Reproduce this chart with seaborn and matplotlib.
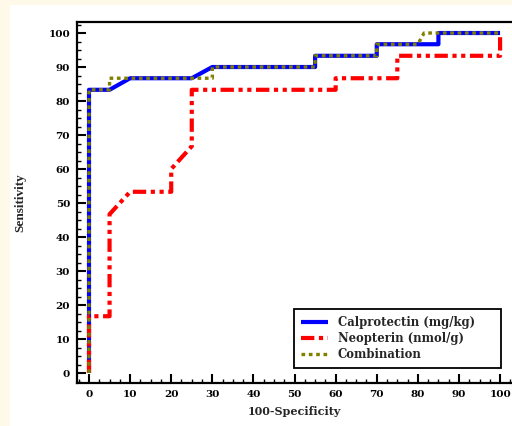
import matplotlib
matplotlib.use("Agg")
import matplotlib.pyplot as plt
import seaborn as sns
import pandas as pd
from matplotlib.patches import Rectangle
from matplotlib.ticker import MultipleLocator

# ---- data (100-Specificity, Sensitivity) ----
calpro_x = [0, 0, 5, 10, 25, 30, 55, 55, 70, 70, 85, 85, 100]
calpro_y = [0, 83.3, 83.3, 86.7, 86.7, 90, 90, 93.3, 93.3, 96.7, 96.7, 100, 100]

neop_x = [0, 0, 5, 5, 10, 20, 20, 25, 25, 60, 60, 75, 75, 100, 100]
neop_y = [0, 16.7, 16.7, 46.7, 53.3, 53.3, 60, 66.7, 83.3, 83.3, 86.7, 86.7, 93.3, 93.3, 100]

comb_x = [0, 0, 5, 5, 30, 30, 55, 55, 70, 70, 80, 81.5, 100]
comb_y = [0, 83.3, 83.3, 86.7, 86.7, 90, 90, 93.3, 93.3, 96.7, 96.7, 100, 100]

labels = ["Calprotectin (mg/kg)", "Neopterin (nmol/g)", "Combination"]
xticks = list(range(0, 101, 10))
yticks = list(range(0, 101, 10))

sns.set_style("white")
plt.rcParams["font.family"] = ["DejaVu Serif", "Liberation Serif"]
plt.rcParams["font.weight"] = "bold"

fig = plt.figure(figsize=(5.12, 4.26), dpi=100)
fig.patch.set_facecolor("#fef9e8")
fig.patches.append(Rectangle((10 / 512, 0), 1, 1 - 5 / 426, transform=fig.transFigure,
                             facecolor="white", edgecolor="none", zorder=-10))

ax = fig.add_axes([77 / 512, 43 / 426, 435 / 512, 361 / 426])
ax.set_facecolor("none")

df_c = pd.DataFrame({"x": calpro_x, "y": calpro_y})
df_n = pd.DataFrame({"x": neop_x, "y": neop_y})
df_b = pd.DataFrame({"x": comb_x, "y": comb_y})

sns.lineplot(data=df_c, x="x", y="y", sort=False, estimator=None, ax=ax,
             color="#0000ff", linewidth=3.0, label=labels[0])
sns.lineplot(data=df_n, x="x", y="y", sort=False, estimator=None, ax=ax,
             color="#ff0000", linewidth=3.0, linestyle=(0, (3.2, 1.1, 1.0, 1.1, 1.0, 1.1)),
             label=labels[1])
sns.lineplot(data=df_b, x="x", y="y", sort=False, estimator=None, ax=ax,
             color="#808000", linewidth=2.4, linestyle=(0, (1.1, 1.1)), label=labels[2])

for ln in ax.lines:
    ln.set_solid_capstyle("butt")
    ln.set_dash_capstyle("butt")

ax.set_xlim(-2.92, 102.9)
ax.set_ylim(-2.94, 103.24)
ax.set_xticks(xticks)
ax.set_yticks(yticks)
ax.xaxis.set_minor_locator(MultipleLocator(2.5))
ax.yaxis.set_minor_locator(MultipleLocator(2.5))
ax.tick_params(axis="both", which="major", direction="in", length=6.5, width=1.5,
               labelsize=7.5, pad=5, colors="black", bottom=True, left=True)
ax.tick_params(axis="both", which="minor", direction="in", length=3.0, width=1.0,
               bottom=True, left=True, colors="black")
for lab in ax.get_xticklabels() + ax.get_yticklabels():
    lab.set_fontweight("bold")

for side in ["left", "bottom", "top"]:
    ax.spines[side].set_visible(True)
    ax.spines[side].set_color("black")
    ax.spines[side].set_linewidth(1.6)
ax.spines["right"].set_visible(False)

ax.set_xlabel("100-Specificity", fontsize=8, fontweight="bold", labelpad=5)
ax.set_ylabel("Sensitivity", fontsize=9.5, fontweight="bold", labelpad=16,
              family="Liberation Serif")

leg = ax.legend(loc="lower left", bbox_to_anchor=(0.499, 0.0416, 0.476, 0.15),
                mode="expand", borderaxespad=0,
                frameon=True, fancybox=False, edgecolor="black", framealpha=1,
                prop={"family": "DejaVu Serif", "weight": "bold", "size": 8.4},
                handlelength=2.3, labelspacing=0.25, handletextpad=0.85,
                borderpad=0.6)
leg.get_frame().set_linewidth(1.3)

fig.savefig("out.png", dpi=100, facecolor=fig.get_facecolor())
